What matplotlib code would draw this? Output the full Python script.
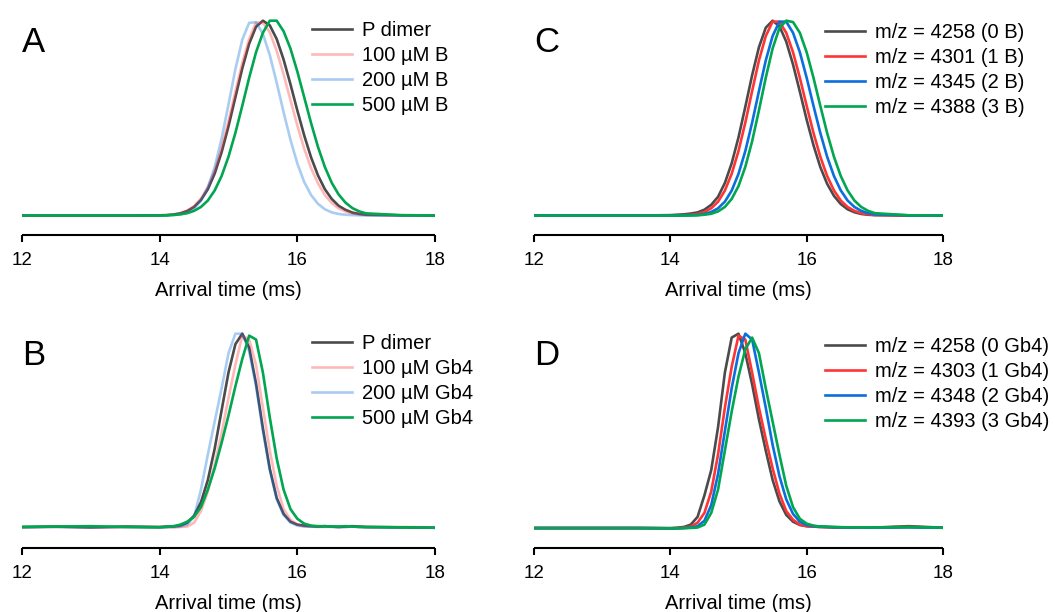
import matplotlib
matplotlib.use("Agg")
import matplotlib.pyplot as plt

plt.rcParams["font.family"] = ["Liberation Sans", "DejaVu Sans"]

# arrival time grid (ms)
T = [12.0, 12.5, 13.0, 13.5,
     14.0, 14.1, 14.2, 14.3, 14.4, 14.5, 14.6, 14.7, 14.8, 14.9,
     15.0, 15.1, 15.2, 15.3, 15.4, 15.5, 15.6, 15.7, 15.8, 15.9,
     16.0, 16.1, 16.2, 16.3, 16.4, 16.5, 16.6, 16.7, 16.8, 16.9,
     17.0, 17.5, 18.0]

# --- A: P dimer + B (normalised intensity)
a_dimer = [0, 0, 0, 0,
           .001, .002, .005, .011, .023, .044, .080, .135, .216, .325,
           .458, .607, .755, .882, .969, 1.0, .976, .906, .801, .674,
           .539, .411, .298, .206, .135, .085, .050, .029, .015, .008,
           .004, .001, 0]
a_100 = [0, 0, 0, 0,
         .001, .002, .005, .012, .025, .048, .087, .146, .232, .346,
         .484, .636, .783, .905, .99, .99, .94, .845, .725, .593,
         .462, .343, .243, .165, .105, .064, .037, .021, .011, .006,
         .003, .001, 0]
a_200 = [0, 0, 0, 0,
         0, .001, .002, .006, .016, .036, .076, .144, .249, .395,
         .570, .751, .902, .989, .992, .932, .823, .682, .531, .389,
         .267, .172, .105, .060, .032, .016, .008, .004, .002, .001,
         0, 0, 0]
a_500 = [0, 0, 0, 0,
         0, .001, .003, .006, .012, .024, .044, .077, .129, .203,
         .302, .424, .563, .707, .838, .938, 1.0, 1.0, .946, .857,
         .739, .607, .474, .352, .249, .168, .108, .066, .038, .021,
         .011, .002, 0]

# --- B: P dimer + Gb4
b_dimer = [.008, .010, .006, .010,
           .008, .010, .010, .015, .029, .066, .135, .249, .411, .607,
           .801, .946, 1.0, .929, .744, .514, .306, .157, .075, .035,
           .020, .015, .012, .010, .012, .010, .008, .010, .012, .010,
           .008, .006, .004]
b_100 = [.005, .008, .005, .006,
         .005, .006, .006, .008, .010, .030, .090, .190, .330, .490,
         .670, .840, .990, .970, .840, .620, .400, .220, .100, .045,
         .020, .012, .010, .010, .008, .010, .008, .008, .010, .008,
         .006, .008, .006]
b_200 = [.006, .008, .005, .008,
         .006, .008, .008, .010, .020, .060, .200, .380, .550, .720,
         .900, 1.0, 1.0, .910, .730, .500, .300, .150, .070, .030,
         .015, .010, .010, .008, .010, .008, .006, .008, .010, .008,
         .006, .005, .004]
b_500 = [.008, .010, .012, .008,
         .006, .008, .012, .020, .035, .060, .110, .200, .310, .440,
         .580, .730, .870, .990, .970, .800, .570, .360, .200, .100,
         .050, .025, .015, .012, .012, .010, .010, .012, .010, .008,
         .008, .006, .004]

# --- C: m/z species, B adducts
c_0 = [0, 0, 0, 0,
       .002, .004, .006, .010, .016, .030, .055, .096, .167, .268,
       .401, .558, .720, .864, .964, 1.0, .972, .893, .775, .636,
       .492, .361, .249, .163, .101, .059, .032, .017, .008, .004,
       .002, 0, 0]
c_1 = [0, 0, 0, 0,
       0, .001, .002, .004, .008, .018, .037, .071, .128, .214,
       .331, .477, .639, .796, .921, .995, .995, .938, .838, .707,
       .563, .424, .302, .203, .129, .077, .044, .024, .012, .006,
       .003, 0, 0]
c_2 = [0, 0, 0, 0,
       0, 0, .001, .002, .003, .008, .018, .037, .071, .128,
       .214, .331, .477, .639, .796, .921, .995, .995, .938, .838,
       .707, .563, .424, .302, .203, .129, .077, .044, .024, .012,
       .006, .001, 0]
c_3 = [0, 0, 0, 0,
       0, 0, 0, 0, .001, .004, .009, .021, .044, .085,
       .151, .250, .381, .540, .707, .857, .962, 1.0, .993, .938,
       .838, .707, .563, .424, .302, .203, .129, .077, .044, .024,
       .012, .001, 0]

# --- D: m/z species, Gb4 adducts
d_0 = [.003, .003, .003, .003,
       .002, .004, .008, .020, .060, .170, .300, .520, .800, .980,
       1.0, .900, .740, .560, .400, .250, .140, .070, .035, .018,
       .012, .010, .008, .008, .006, .006, .005, .005, .006, .005,
       .005, .012, .004]
d_1 = [.002, .002, .002, .002,
       .001, .002, .004, .010, .030, .080, .190, .380, .620, .830,
       .990, .970, .800, .620, .460, .310, .180, .090, .045, .020,
       .012, .010, .008, .007, .006, .006, .005, .006, .006, .005,
       .005, .008, .004]
d_2 = [.002, .002, .002, .002,
       .001, .001, .002, .005, .012, .040, .120, .280, .500, .720,
       .900, 1.0, .970, .800, .620, .430, .270, .150, .075, .035,
       .018, .012, .010, .008, .007, .006, .006, .006, .006, .005,
       .005, .006, .004]
d_3 = [.002, .002, .002, .002,
       .001, .001, .002, .003, .005, .020, .080, .200, .400, .600,
       .780, .920, .980, .900, .720, .550, .380, .220, .110, .050,
       .025, .015, .010, .008, .008, .007, .006, .006, .006, .006,
       .005, .008, .004]

labels_a = ["P dimer", "100 µM B", "200 µM B", "500 µM B"]
labels_b = ["P dimer", "100 µM Gb4", "200 µM Gb4", "500 µM Gb4"]
labels_c = ["m/z = 4258 (0 B)", "m/z = 4301 (1 B)", "m/z = 4345 (2 B)", "m/z = 4388 (3 B)"]
labels_d = ["m/z = 4258 (0 Gb4)", "m/z = 4303 (1 Gb4)", "m/z = 4348 (2 Gb4)", "m/z = 4393 (3 Gb4)"]

GREY, RED, BLUE, GREEN = "#4b4b4b", "#ff3434", "#0a6fdc", "#00a650"
W, H = 1055, 612
fig = plt.figure(figsize=(W / 100, H / 100), dpi=100)


def fx(px): return px / W
def fy(py): return 1 - py / H


def panel(x0, x1, spine_y, series, labels, faded, letter, leg_x, leg_y):
    ax = fig.add_axes([fx(x0), fy(spine_y), (x1 - x0) / W, 226 / H])
    if faded:
        styles = [(GREY, 1), (RED, .35), (BLUE, .35), (GREEN, 1)]
    else:
        styles = [(GREY, 1), (RED, 1), (BLUE, 1), (GREEN, 1)]
    for y, lab, (c, a) in zip(series, labels, styles):
        ax.plot(T, y, color=c, alpha=a, lw=1.9, label=lab)
    ax.set_xlim(12, 18); ax.set_ylim(-0.1, 1.06)
    ax.set_xticks([12, 14, 16, 18])
    ax.set_yticks([])
    for s in ["top", "right", "left"]:
        ax.spines[s].set_visible(False)
    ax.spines["bottom"].set_linewidth(1.5)
    ax.spines["bottom"].set_capstyle("butt")
    ax.tick_params(axis="x", direction="out", length=5, width=1.5, labelsize=13.5, pad=7.5)
    ax.set_xlabel("Arrival time (ms)", fontsize=14.5, labelpad=8.5)
    ax.legend(loc="upper left", bbox_to_anchor=(fx(leg_x), fy(leg_y)), bbox_transform=fig.transFigure,
              frameon=False, fontsize=14.5, handlelength=2.0, handletextpad=0.5,
              labelspacing=0.3, borderpad=0, borderaxespad=0)
    fig.text(fx(x0), fy(spine_y - 183), letter, fontsize=25, ha="left", va="baseline")
    return ax


panel(22, 435, 235, [a_dimer, a_100, a_200, a_500], labels_a, True, "A", 312, 21)
panel(22, 435, 548, [b_dimer, b_100, b_200, b_500], labels_b, True, "B", 312, 334)
panel(534, 943, 235, [c_0, c_1, c_2, c_3], labels_c, False, "C", 825, 23)
panel(534, 943, 548, [d_0, d_1, d_2, d_3], labels_d, False, "D", 825, 337)

fig.savefig("out.png", dpi=100)
